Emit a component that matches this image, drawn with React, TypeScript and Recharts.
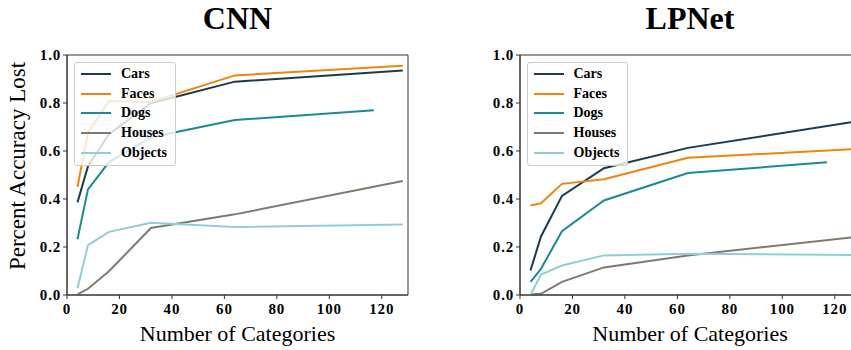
import React from 'react'
import { LineChart, Line, XAxis, YAxis, ReferenceArea } from 'recharts'

// category counts on the x axis (dogs stop short of 128)
const xCounts = [4, 8, 16, 32, 64, 128]
const xCountsDogs = [4, 8, 16, 32, 64, 117]

const cnnCars = [0.386, 0.537, 0.67, 0.799, 0.889, 0.935]
const cnnFaces = [0.451, 0.676, 0.808, 0.804, 0.915, 0.955]
const cnnDogs = [0.232, 0.44, 0.554, 0.657, 0.729, 0.77]
const cnnHouses = [0.003, 0.026, 0.099, 0.279, 0.336, 0.475]
const cnnObjects = [0.028, 0.208, 0.263, 0.301, 0.283, 0.294]

const lpCars = [0.102, 0.244, 0.413, 0.528, 0.613, 0.723]
const lpFaces = [0.373, 0.382, 0.463, 0.482, 0.572, 0.608]
const lpDogs = [0.055, 0.109, 0.266, 0.394, 0.508, 0.553]
const lpHouses = [0.002, 0.005, 0.055, 0.115, 0.165, 0.242]
const lpObjects = [0, 0.085, 0.123, 0.165, 0.172, 0.166]

const seriesNames = ['Cars', 'Faces', 'Dogs', 'Houses', 'Objects']
const seriesColors = ['#1b3a52', '#ee8511', '#1b8a94', '#7d7b6e', '#8fcfd1']

const xTicks = [0, 20, 40, 60, 80, 100, 120]
const yTicks = [0, 0.2, 0.4, 0.6, 0.8, 1.0]

const FONT = '"Liberation Serif", "Times New Roman", serif'
const tickStyle = { fill: '#000', fontSize: 15, fontWeight: 'bold', fontFamily: FONT, letterSpacing: 0.8 }

const toPoints = (xs: number[], ys: number[]) => xs.map((x, i) => ({ x, y: ys[i] }))

interface PanelProps {
  title: string
  left: number
  values: number[][]
}

function Panel({ title, left, values }: PanelProps) {
  const width = 425
  const height = 350
  return (
    <div style={{ position: 'absolute', left, top: 0, width, height }}>
      <div
        style={{
          position: 'absolute', left: 67, width: 341, top: 0, textAlign: 'center',
          fontFamily: FONT, fontWeight: 'bold', fontSize: 32, lineHeight: '36px'
        }}
      >
        {title}
      </div>
      <LineChart width={width} height={height} margin={{ top: 55, right: 17, bottom: 25, left: 27 }}>
        <XAxis
          type="number"
          dataKey="x"
          domain={[0, 130]}
          ticks={xTicks}
          allowDataOverflow
          height={30}
          tickSize={4}
          tickMargin={4}
          stroke="#333"
          tick={tickStyle}
        />
        <YAxis
          type="number"
          domain={[0, 1]}
          ticks={yTicks}
          width={40}
          tickSize={4}
          tickMargin={2}
          stroke="#333"
          tickFormatter={(v: number) => v.toFixed(1)}
          tick={tickStyle}
        />
        {/* box around the plot, like matplotlib spines */}
        <ReferenceArea x1={0} x2={130} y1={0} y2={1} fill="none" stroke="#333" strokeWidth={1} ifOverflow="visible" />
        {values.map((ys, i) => (
          <Line
            key={seriesNames[i]}
            data={toPoints(seriesNames[i] === 'Dogs' ? xCountsDogs : xCounts, ys)}
            dataKey="y"
            type="linear"
            stroke={seriesColors[i]}
            strokeWidth={2}
            dot={false}
            activeDot={false}
            isAnimationActive={false}
          />
        ))}
      </LineChart>
      <div
        style={{
          position: 'absolute', left: 74, top: 62, padding: '1px 8px 3px 6px',
          background: 'rgba(255,255,255,0.8)', border: '1px solid #ccc', borderRadius: 3,
          fontFamily: FONT, fontWeight: 'bold', fontSize: 14
        }}
      >
        {seriesNames.map((name, i) => (
          <div key={name} style={{ display: 'flex', alignItems: 'center', height: 19.7 }}>
            <span style={{ display: 'inline-block', width: 30, height: 2, background: seriesColors[i], marginRight: 10 }} />
            {name}
          </div>
        ))}
      </div>
      <div
        style={{
          position: 'absolute', left: 67, width: 341, top: 321, textAlign: 'center',
          fontFamily: FONT, fontSize: 22, lineHeight: '26px'
        }}
      >
        Number of Categories
      </div>
    </div>
  )
}

export default function App() {
  return (
    <div style={{ position: 'absolute', left: 0, top: 0, width: 851, height: 350, overflow: 'hidden', background: '#fff' }}>
      <div
        style={{
          position: 'absolute', left: 18, top: 166, width: 0, height: 0,
          fontFamily: FONT, fontSize: 23
        }}
      >
        <div style={{ position: 'absolute', transform: 'translate(-50%, -50%) rotate(-90deg)', whiteSpace: 'nowrap', lineHeight: '26px' }}>
          Percent Accuracy Lost
        </div>
      </div>
      <Panel title="CNN" left={0} values={[cnnCars, cnnFaces, cnnDogs, cnnHouses, cnnObjects]} />
      <Panel title="LPNet" left={452.5} values={[lpCars, lpFaces, lpDogs, lpHouses, lpObjects]} />
    </div>
  )
}
